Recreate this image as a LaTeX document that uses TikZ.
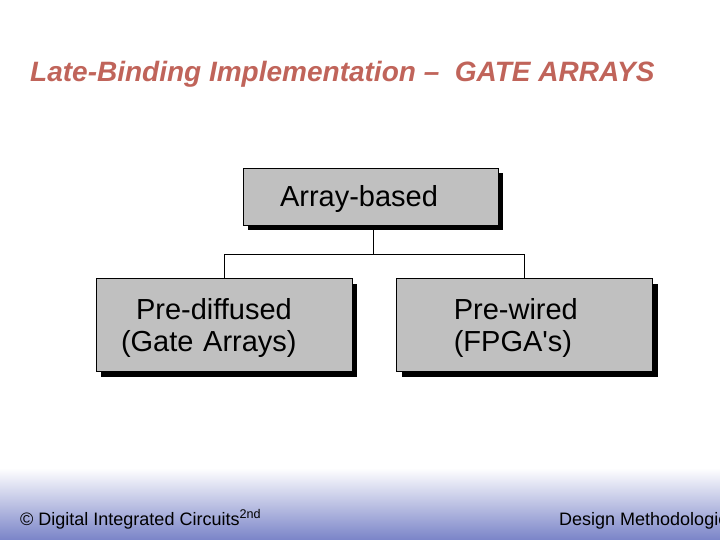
\documentclass[tikz,border=0pt]{standalone}
\usepackage{fontspec}
\setmainfont{Liberation Sans}
\usetikzlibrary{positioning, shadows}

\definecolor{titlered}{RGB}{192,100,90}
\definecolor{footblue}{RGB}{122,132,200}
\definecolor{boxgray}{RGB}{192,192,192}

\newcommand{\boxstrut}{\rule{0pt}{27pt}}

\begin{document}
\begin{tikzpicture}[
  x=1pt, y=-1pt,
  every node/.style={inner sep=0pt},
  box/.style={
    rectangle,
    draw,
    fill=boxgray,
    line width=0.8pt,
    minimum height=57pt,
    inner ysep=0pt,
    align=left,
    font=\fontsize{29}{32}\selectfont,
    execute at begin node=\boxstrut,
    drop shadow={shadow xshift=5pt, shadow yshift=-5pt, fill=black, opacity=1}
  },
  link/.style={line width=0.8pt}
]

\useasboundingbox (0,0) rectangle (720,540);

% ============================================================
% Footer band
% ============================================================

\shade[top color=white, bottom color=footblue] (0,468) rectangle (720,540);

\node[anchor=base west, font=\fontsize{18}{20}\selectfont] (copy) at (20,525)
  {© Digital Integrated Circuits\textsuperscript{2nd}};
\node[anchor=base west, font=\fontsize{18}{20}\selectfont] (meth) at (559,525)
  {Design Methodologies};

% ============================================================
% Title
% ============================================================

\node[anchor=base west, text=titlered, font=\fontsize{28}{32}\selectfont\bfseries\itshape] (title) at (30,82)
  {Late-Binding Implementation –\ \ GATE ARRAYS};

% ============================================================
% Tree
% ============================================================

\node[box, text width=181pt, inner xsep=37pt] (arr) at (370.5,196.5) {Array-based};

\node[box, minimum height=93pt, text width=206pt, inner xsep=25pt,
      below=53pt of arr, xshift=-146.5pt] (pdiff) {\hspace*{15pt}Pre-diffused\\(Gate Arrays)};
\node[box, minimum height=93pt, text width=142pt, inner xsep=57pt,
      right=44pt of pdiff] (pwire) {Pre-wired\\(FPGA\textquotesingle s)};

\draw[link] ([xshift=2.5pt]arr.south) -- ++(0,29) coordinate (split);
\draw[link] (pdiff.north) |- (split) -| (pwire.north);

\end{tikzpicture}
\end{document}
